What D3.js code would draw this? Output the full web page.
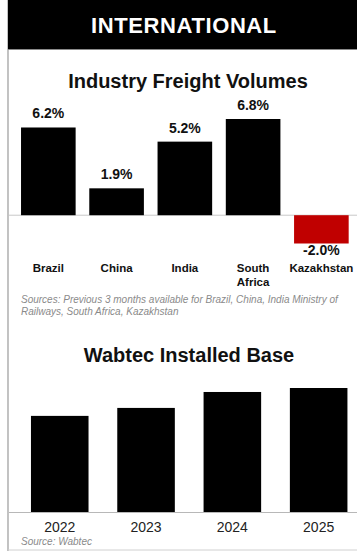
<!DOCTYPE html>
<html lang='en'>
<head>
<meta charset='utf-8'>
<title>International</title>
<script src='https://cdn.jsdelivr.net/npm/d3@7'></script>
<style>
  body { margin: 0; background: #fff; }
  text { font-family: 'Liberation Sans', Arial, sans-serif; }
</style>
</head>
<body>
<svg id='svg' width='357' height='551'></svg>
<script>
// freight volumes, % change
var countries = ['Brazil', 'China', 'India', 'South Africa', 'Kazakhstan'];
var freightChange = [6.2, 1.9, 5.2, 6.8, -2.0];
var freightLabels = ['6.2%', '1.9%', '5.2%', '6.8%', '-2.0%'];

// installed base (relative units)
var years = ['2022', '2023', '2024', '2025'];
var installedBase = [97, 105, 121, 125];

var svg = d3.select('#svg');

// frame
svg.append('line').attr('x1', 8).attr('x2', 8).attr('y1', 0).attr('y2', 551)
  .attr('stroke', '#9a9a9a').attr('stroke-width', 1.2);
svg.append('line').attr('x1', 8).attr('x2', 357).attr('y1', 550).attr('y2', 550)
  .attr('stroke', '#d0d0d0').attr('stroke-width', 1);
svg.append('rect').attr('x', 8).attr('y', 0).attr('width', 349).attr('height', 49).attr('fill', '#000');
svg.append('line').attr('x1', 8).attr('x2', 357).attr('y1', 49.5).attr('y2', 49.5)
  .attr('stroke', '#8a8a8a').attr('stroke-width', 1.2);
svg.append('text').attr('x', 184).attr('y', 33).attr('text-anchor', 'middle')
  .attr('fill', '#fff').attr('font-weight', 'bold').attr('font-size', 22)
  .attr('letter-spacing', 0.6).text('INTERNATIONAL');

// ---- chart 1
svg.append('text').attr('x', 188).attr('y', 88).attr('text-anchor', 'middle')
  .attr('font-weight', 'bold').attr('font-size', 20).attr('fill', '#111')
  .text('Industry Freight Volumes');

var x1 = d3.scaleBand().domain(countries).range([14.2, 355.5]).paddingInner(0.2).paddingOuter(0.1);
var y1 = d3.scaleLinear().domain([-2, 6.8]).range([243.5, 119]);

svg.append('line').attr('x1', 9).attr('x2', 357).attr('y1', y1(0)).attr('y2', y1(0))
  .attr('stroke', '#c8c8c8').attr('stroke-width', 1);

svg.selectAll('.fbar').data(freightChange).enter().append('rect')
  .attr('class', 'fbar')
  .attr('x', (d, i) => x1(countries[i]))
  .attr('width', x1.bandwidth())
  .attr('y', d => Math.min(y1(d), y1(0)))
  .attr('height', d => Math.abs(y1(d) - y1(0)))
  .attr('fill', d => d < 0 ? '#c00000' : '#000');

svg.selectAll('.flab').data(freightChange).enter().append('text')
  .attr('class', 'flab')
  .attr('x', (d, i) => x1(countries[i]) + x1.bandwidth() / 2)
  .attr('y', d => d < 0 ? y1(d) + 11 : y1(d) - 9)
  .attr('text-anchor', 'middle').attr('font-weight', 'bold').attr('font-size', 14).attr('fill', '#111')
  .text((d, i) => freightLabels[i]);

var cat = svg.selectAll('.cat').data(countries).enter().append('text')
  .attr('class', 'cat')
  .attr('x', d => x1(d) + x1.bandwidth() / 2)
  .attr('y', 272)
  .attr('text-anchor', 'middle').attr('font-weight', 'bold').attr('font-size', 11.5).attr('fill', '#111');
cat.each(function(d) {
  var words = d.split(' ');
  var t = d3.select(this);
  words.forEach((w, k) => {
    t.append('tspan').attr('x', t.attr('x')).attr('dy', k ? 14 : 0).text(w);
  });
});

svg.append('text').attr('x', 21).attr('y', 303)
  .attr('font-style', 'italic').attr('font-size', 10).attr('fill', '#8a8a8a')
  .text('Sources: Previous 3 months available for Brazil, China, India Ministry of');
svg.append('text').attr('x', 21).attr('y', 315)
  .attr('font-style', 'italic').attr('font-size', 10).attr('fill', '#8a8a8a')
  .text('Railways, South Africa, Kazakhstan');

// ---- chart 2
svg.append('text').attr('x', 189).attr('y', 362).attr('text-anchor', 'middle')
  .attr('font-weight', 'bold').attr('font-size', 20).attr('fill', '#111')
  .text('Wabtec Installed Base');

var x2 = d3.scaleBand().domain(years).range([13.7, 364.7]).paddingInner(0.333).paddingOuter(0.2);
var y2 = d3.scaleLinear().domain([0, 125]).range([512.5, 388]);

svg.selectAll('.bbar').data(installedBase).enter().append('rect')
  .attr('class', 'bbar')
  .attr('x', (d, i) => x2(years[i]))
  .attr('width', x2.bandwidth())
  .attr('y', d => y2(d))
  .attr('height', d => y2(0) - y2(d))
  .attr('fill', '#000');

svg.append('line').attr('x1', 9).attr('x2', 357).attr('y1', y2(0)).attr('y2', y2(0))
  .attr('stroke', '#b8b8b8').attr('stroke-width', 1);

svg.selectAll('.yr').data(years).enter().append('text')
  .attr('class', 'yr')
  .attr('x', d => x2(d) + x2.bandwidth() / 2)
  .attr('y', 532)
  .attr('text-anchor', 'middle').attr('font-size', 14).attr('fill', '#222')
  .text(d => d);

svg.append('text').attr('x', 21).attr('y', 545)
  .attr('font-style', 'italic').attr('font-size', 10).attr('fill', '#8a8a8a')
  .text('Source: Wabtec');
</script>
</body>
</html>
